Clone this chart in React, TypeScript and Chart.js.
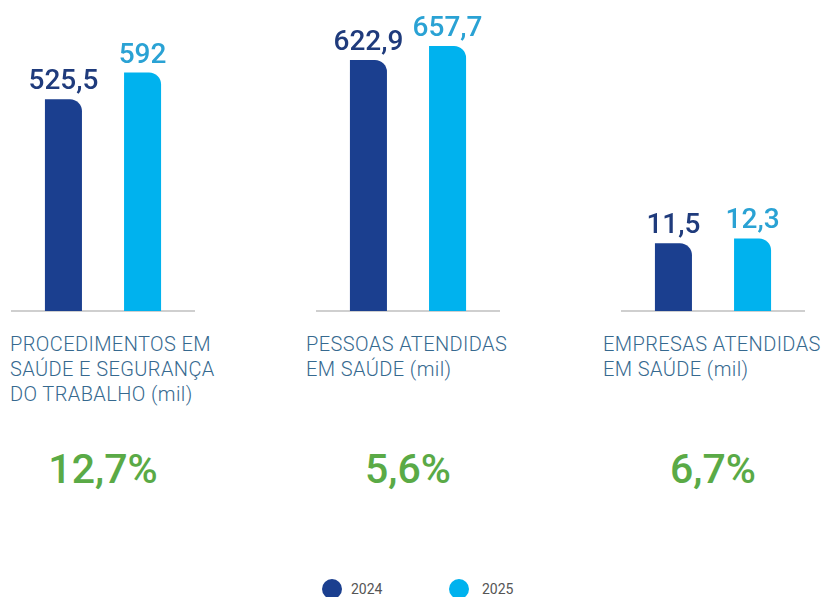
import React, { useEffect, useRef } from "react";
import { Chart, registerables } from "chart.js";

Chart.register(...registerables);

// ---- data ----
const categoryLines: string[][] = [
  ["PROCEDIMENTOS EM", "SAÚDE E SEGURANÇA", "DO TRABALHO (mil)"],
  ["PESSOAS ATENDIDAS", "EM SAÚDE (mil)"],
  ["EMPRESAS ATENDIDAS", "EM SAÚDE (mil)"],
];
const seriesNames = ["2024", "2025"];
const values2024 = [525.5, 622.9, 11.5];
const values2025 = [592, 657.7, 12.3];
const growthLabels = ["12,7%", "5,6%", "6,7%"];
const scaleMax = [772, 772, 52.7];

// ---- style ----
const COLOR_2024 = "#1b3f8f";
const COLOR_2025 = "#00b2ee";
const LABEL_2024 = "#1f3b7c";
const LABEL_2025 = "#2aa2d4";
const CAT_COLOR = "#36698f";
const GREEN = "#5aaa46";

const chartLeft = [11, 316, 621];
const labelLeft = [10, 306, 603];
const CH_W = 184;
const CH_H = 312;

const fmt = (v: number) => v.toLocaleString("pt-BR");

const valueLabelPlugin = {
  id: "valueLabels",
  afterDatasetsDraw(chart: any) {
    const ctx = chart.ctx;
    ctx.save();
    ctx.font = "500 28px Roboto";
    ctx.textAlign = "center";
    ctx.textBaseline = "alphabetic";
    chart.data.datasets.forEach((ds: any, i: number) => {
      const meta = chart.getDatasetMeta(i);
      meta.data.forEach((bar: any, j: number) => {
        const v = ds.data[j];
        if (v == null) return;
        ctx.fillStyle = i === 0 ? LABEL_2024 : LABEL_2025;
        ctx.fillText(fmt(v), bar.x, bar.y - 10);
      });
    });
    ctx.restore();
  },
};

function GroupChart({ idx }: { idx: number }) {
  const ref = useRef<HTMLCanvasElement | null>(null);
  useEffect(() => {
    if (!ref.current) return;
    const radius = { topLeft: 0, topRight: 12, bottomLeft: 0, bottomRight: 0 };
    const chart = new Chart(ref.current, {
      type: "bar",
      data: {
        labels: [categoryLines[idx].join(" ")],
        datasets: [
          {
            label: seriesNames[0],
            data: [values2024[idx]],
            backgroundColor: COLOR_2024,
            borderRadius: radius,
            borderSkipped: "start",
          },
          {
            label: seriesNames[1],
            data: [values2025[idx]],
            backgroundColor: COLOR_2025,
            borderRadius: radius,
            borderSkipped: "start",
          },
        ],
      },
      options: {
        responsive: false,
        animation: false,
        layout: { padding: { left: 0, right: 0, top: 0, bottom: 1 } },
        datasets: {
          bar: { categoryPercentage: 0.86, barPercentage: 0.468 },
        },
        plugins: { legend: { display: false }, tooltip: { enabled: false } },
        scales: {
          x: {
            display: true,
            ticks: { display: false },
            grid: { display: false, drawTicks: false },
            border: { display: true, color: "#cfcfcf", width: 2 },
          },
          y: {
            display: false,
            min: 0,
            max: scaleMax[idx],
          },
        },
      },
      plugins: [valueLabelPlugin],
    } as any);
    return () => chart.destroy();
  }, [idx]);
  return (
    <div style={{ position: "absolute", left: chartLeft[idx], top: 0, width: CH_W, height: CH_H }}>
      <canvas ref={ref} width={CH_W} height={CH_H} style={{ display: "block" }} />
    </div>
  );
}

export default function App() {
  return (
    <div
      style={{
        position: "absolute",
        left: 0,
        top: 0,
        width: 824,
        height: 597,
        overflow: "hidden",
        background: "#ffffff",
        fontFamily: "Roboto, sans-serif",
      }}
    >
      {categoryLines.map((_, i) => (
        <GroupChart key={"c" + i} idx={i} />
      ))}
      {categoryLines.map((lines, i) => (
        <div
          key={"l" + i}
          style={{
            position: "absolute",
            left: labelLeft[i],
            top: 332,
            fontSize: 20,
            letterSpacing: "0.4px",
            lineHeight: "25px",
            fontWeight: 300,
            color: CAT_COLOR,
            whiteSpace: "nowrap",
          }}
        >
          {lines.map((t, k) => (
            <div key={k}>{t}</div>
          ))}
        </div>
      ))}
      {growthLabels.map((g, i) => (
        <div
          key={"g" + i}
          style={{
            position: "absolute",
            left: chartLeft[i],
            width: CH_W,
            top: 447,
            fontSize: 41,
            lineHeight: "44px",
            fontWeight: 500,
            color: GREEN,
            textAlign: "center",
          }}
        >
          {g}
        </div>
      ))}
      {seriesNames.map((s, i) => (
        <div
          key={"s" + i}
          style={{
            position: "absolute",
            left: i === 0 ? 322 : 449,
            top: 579,
            height: 20,
            display: "flex",
            alignItems: "center",
            fontSize: 14,
            color: "#555",
          }}
        >
          <span
            style={{
              display: "inline-block",
              width: 20,
              height: 20,
              borderRadius: 10,
              background: i === 0 ? COLOR_2024 : COLOR_2025,
              marginRight: i === 0 ? 9 : 13,
            }}
          />
          <span>{s}</span>
        </div>
      ))}
    </div>
  );
}
